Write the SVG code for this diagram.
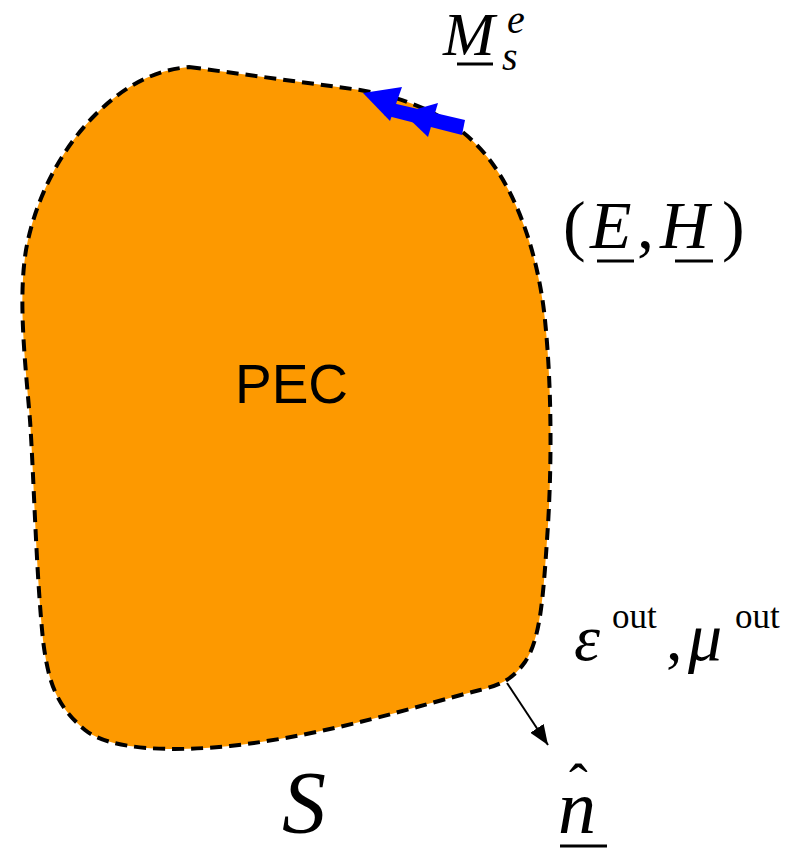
<svg xmlns="http://www.w3.org/2000/svg" width="787" height="848" viewBox="0 0 787 848">
<style>
.m{font-family:"Liberation Serif","Times New Roman",serif;fill:#000}
.i{font-style:italic}
.u{stroke:#000;stroke-width:3}
.b{fill:#0000ff}
</style>
<defs>
<marker id="ah" viewBox="0 0 20 16" refX="20" refY="8" markerWidth="20" markerHeight="16" markerUnits="userSpaceOnUse" orient="auto"><path d="M0,0 L20,8 L0,16 z" fill="#000"/></marker>
</defs>
<g id="pec">
<path d="M189,67 L360,90 C420,100 470,125 500,175 C525,215 540,270 545,320 C552,390 552,470 547,540 C543,600 540,640 525,662 C512,680 500,685 480,690 C420,705 330,735 230,746 C170,752 110,750 85,730 C55,705 48,680 43,640 C36,570 34,480 30,420 C25,360 18,300 26,250 C35,200 60,150 95,115 C125,85 155,70 189,67 Z" fill="#fd9900" stroke="#000" stroke-width="4" stroke-dasharray="12,7"/>
<text x="235" y="403" font-family="Liberation Sans, Arial, sans-serif" font-size="55">PEC</text>
</g>
<g id="connectors">
<g id="current">
<path class="b" d="M388,102 L465,120 L462,135 L384,115 Z"/>
<path class="b" d="M363,93 L402,87 L390,121 Z"/>
<path class="b" d="M403,113 L438,103 L428,137 Z"/>
</g>
<line x1="507" y1="683" x2="548" y2="745" stroke="#000" stroke-width="2" marker-end="url(#ah)"/>
</g>
<g id="labels">
<text class="m i" x="443" y="55" font-size="62">M</text>
<line class="u" x1="457" y1="64" x2="493" y2="64"/>
<text class="m i" x="507" y="33" font-size="40">e</text>
<text class="m i" x="502" y="70" font-size="40">s</text>
<text class="m" x="563" y="248" font-size="68">(</text>
<text class="m i" x="590" y="248" font-size="68">E</text>
<line class="u" x1="597" y1="261" x2="634" y2="261"/>
<text class="m" x="637" y="248" font-size="68">,</text>
<text class="m i" x="660" y="248" font-size="68">H</text>
<line class="u" x1="675" y1="261" x2="713" y2="261"/>
<text class="m" x="722" y="248" font-size="68">)</text>
<text class="m i" x="574" y="660" font-size="66">ε</text>
<text class="m" x="612" y="628" font-size="35">out</text>
<text class="m" x="666" y="660" font-size="66">,</text>
<text class="m i" x="688" y="660" font-size="68">μ</text>
<text class="m" x="735" y="628" font-size="35">out</text>
<text class="m i" x="282" y="832" font-size="88">S</text>
<text class="m i" x="558" y="833" font-size="76">n</text>
<text class="m" x="569" y="803" font-size="56">ˆ</text>
<line class="u" x1="560" y1="846" x2="607" y2="846"/>
</g>
</svg>
